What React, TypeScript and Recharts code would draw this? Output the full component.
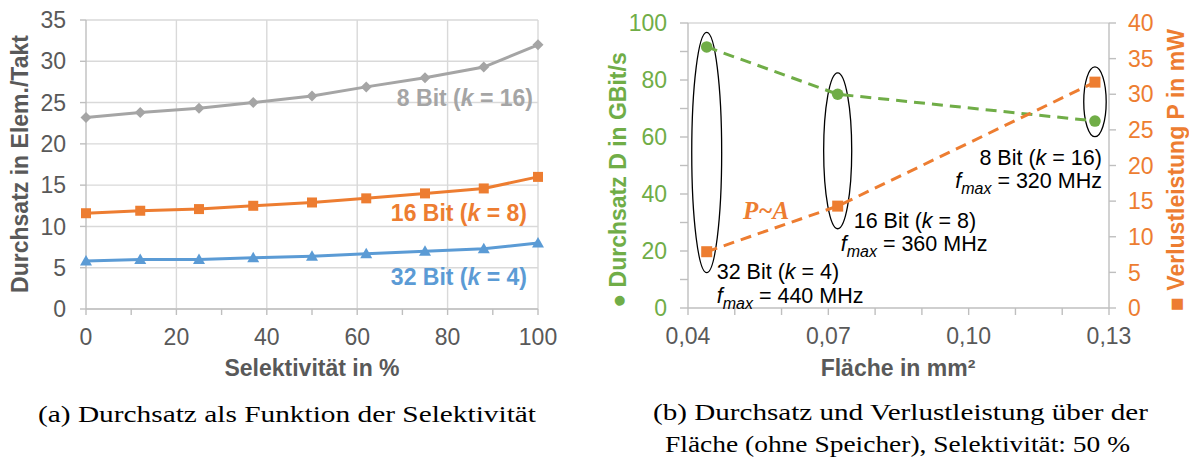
import * as React from "react"
import {
    LineChart,
    Line,
    XAxis,
    YAxis,
    CartesianGrid,
    ReferenceLine,
    ReferenceArea,
    ReferenceDot,
} from "recharts"

// (a) throughput vs. selectivity
const selectivity = [0, 12, 25, 37, 50, 62, 75, 88, 100]
const bit8 = [23.2, 23.8, 24.3, 25.0, 25.8, 26.9, 28.0, 29.3, 32.0]
const bit16 = [11.6, 11.9, 12.1, 12.5, 12.9, 13.4, 14.0, 14.6, 16.0]
const bit32 = [5.8, 6.0, 6.0, 6.2, 6.4, 6.7, 7.0, 7.3, 8.0]
const selTicks = [0, 10, 20, 30, 40, 50, 60, 70, 80, 90, 100]
const selGrid = [20, 40, 60, 80, 100]
const elemTicks = [0, 5, 10, 15, 20, 25, 30, 35]

// (b) throughput and power over area
const area = [0.044, 0.072, 0.127]
const throughput = [91.6, 75.0, 65.6]
const power = [7.9, 14.3, 31.7]
const areaTicks = [0.04, 0.05, 0.06, 0.07, 0.08, 0.09, 0.1, 0.11, 0.12, 0.13]
const dTicks = [0, 10, 20, 30, 40, 50, 60, 70, 80, 90, 100]
const pTicks = [0, 5, 10, 15, 20, 25, 30, 35, 40]
const configNames = ["32 Bit", "16 Bit", "8 Bit"]
const configK = [4, 8, 16]
const configFmax = [440, 360, 320]

// ellipse annotations (in D units)
const ellipseTop = [96.7, 82.5, 84.6]
const ellipseBottom = [12.4, 27.8, 60.1]
const ellipseHalfW = [0.0032, 0.003, 0.0024]

const GRAY = "#A5A5A5"
const ORANGE = "#ED7D31"
const BLUE = "#5B9BD5"
const GREEN = "#70AD47"
const TXT = "#595959"
const AXIS = "#BFBFBF"
const GRID = "#D9D9D9"
const SANS = "'Liberation Sans', Arial, sans-serif"
const SERIF = "'Liberation Serif', 'Times New Roman', serif"

const selData = selectivity.map((s, i) => ({ sel: s, b8: bit8[i], b16: bit16[i], b32: bit32[i] }))
const areaData = area.map((a, i) => ({ area: a, D: throughput[i], P: power[i] }))

const tickStyle = { fill: TXT, fontSize: 23, fontFamily: SANS }

const Diamond = (p: any) => {
    const { cx, cy } = p
    return <path key={p.index} d={`M${cx},${cy - 5.5}L${cx + 5.5},${cy}L${cx},${cy + 5.5}L${cx - 5.5},${cy}Z`} fill={GRAY} />
}
const Square = (size: number, color: string) => (p: any) => {
    const { cx, cy } = p
    return <rect key={p.index} x={cx - size / 2} y={cy - size / 2} width={size} height={size} fill={color} />
}
const Triangle = (p: any) => {
    const { cx, cy } = p
    return <path key={p.index} d={`M${cx},${cy - 6}L${cx + 6},${cy + 4.5}L${cx - 6},${cy + 4.5}Z`} fill={BLUE} />
}
const Circle = (p: any) => <circle key={p.index} cx={p.cx} cy={p.cy} r={5.8} fill={GREEN} />

const Fmax = ({ mhz }: { mhz: number }) => (
    <>
        <tspan fontStyle="italic">f</tspan>
        <tspan fontStyle="italic" fontSize={16} dy={6}>max</tspan>
        <tspan dy={-6}>{` = ${mhz} MHz`}</tspan>
    </>
)

// text block next to a point; dx/dy offsets in px
const annot = (i: number, anchor: "start" | "end", l1: [number, number], l2: [number, number]) => (p: any) => (
    <g fontFamily={SANS} fontSize={21.5} fill="#000">
        <text x={p.cx + l1[0]} y={p.cy + l1[1]} textAnchor={anchor}>
            {configNames[i]} (<tspan fontStyle="italic">k</tspan> = {configK[i]})
        </text>
        <text x={p.cx + l2[0]} y={p.cy + l2[1]} textAnchor={anchor}>
            <Fmax mhz={configFmax[i]} />
        </text>
    </g>
)

const ellipseShape = (p: any) => (
    <ellipse
        cx={p.x + p.width / 2}
        cy={p.y + p.height / 2}
        rx={Math.abs(p.width / 2)}
        ry={Math.abs(p.height / 2)}
        fill="none"
        stroke="#000"
        strokeWidth={1.3}
    />
)

const SelectivityChart = () => (
    <LineChart width={580} height={390} data={selData} margin={{ top: 20, right: 42, bottom: 51, left: 0 }}>
        <CartesianGrid vertical={false} stroke={GRID} strokeWidth={1.4} />
        {selGrid.map((v) => (
            <ReferenceLine key={v} x={v} stroke={GRID} strokeWidth={1.4} />
        ))}
        <XAxis
            type="number"
            dataKey="sel"
            domain={[0, 100]}
            ticks={selTicks}
            tickFormatter={(v: number) => (v % 20 === 0 ? String(v) : "")}
            height={30}
            tickSize={6}
            tickMargin={14}
            stroke={AXIS}
            strokeWidth={1.4}
            tick={tickStyle}
        />
        <YAxis
            domain={[0, 35]}
            ticks={elemTicks}
            width={86}
            tickSize={6}
            tickMargin={14}
            stroke={AXIS}
            strokeWidth={1.4}
            tick={tickStyle}
        />
        <Line dataKey="b8" stroke={GRAY} strokeWidth={3} dot={Diamond} isAnimationActive={false} />
        <Line dataKey="b16" stroke={ORANGE} strokeWidth={3} dot={Square(10, ORANGE)} isAnimationActive={false} />
        <Line dataKey="b32" stroke={BLUE} strokeWidth={3} dot={Triangle} isAnimationActive={false} />
    </LineChart>
)

const AreaChartB = () => (
    <LineChart width={609} height={390} data={areaData} margin={{ top: 23, right: 0, bottom: 52, left: 0 }}>
        <ReferenceLine yAxisId="D" y={100} stroke={GRID} strokeWidth={1.4} />
        <XAxis
            type="number"
            dataKey="area"
            domain={[0.04, 0.13]}
            ticks={areaTicks}
            tickFormatter={(v: number, i: number) => (i % 3 === 0 ? v.toFixed(2).replace(".", ",") : "")}
            height={30}
            tickSize={7}
            tickMargin={13}
            stroke={AXIS}
            strokeWidth={1.4}
            tick={tickStyle}
        />
        <YAxis
            yAxisId="D"
            domain={[0, 100]}
            ticks={dTicks}
            tickFormatter={(v: number) => (v % 20 === 0 ? String(v) : "")}
            width={108}
            tickSize={8}
            tickMargin={13}
            stroke={AXIS}
            strokeWidth={1.4}
            tick={{ ...tickStyle, fill: GREEN }}
        />
        <YAxis
            yAxisId="P"
            orientation="right"
            domain={[0, 40]}
            ticks={pTicks}
            width={80}
            tickSize={7}
            tickMargin={12}
            stroke={AXIS}
            strokeWidth={1.4}
            tick={{ ...tickStyle, fill: ORANGE }}
        />
        <Line
            yAxisId="D"
            dataKey="D"
            stroke={GREEN}
            strokeWidth={3}
            strokeDasharray="11 7"
            dot={Circle}
            isAnimationActive={false}
        />
        <Line
            yAxisId="P"
            dataKey="P"
            stroke={ORANGE}
            strokeWidth={3}
            strokeDasharray="11 7"
            dot={Square(11, ORANGE)}
            isAnimationActive={false}
        />
        {area.map((a, i) => (
            <ReferenceArea
                key={i}
                yAxisId="D"
                x1={a - ellipseHalfW[i]}
                x2={a + ellipseHalfW[i]}
                y1={ellipseBottom[i]}
                y2={ellipseTop[i]}
                ifOverflow="visible"
                shape={ellipseShape}
            />
        ))}
        <ReferenceDot yAxisId="P" x={area[0]} y={power[0]} r={0} shape={annot(0, "start", [10, 27], [10, 51])} />
        <ReferenceDot yAxisId="P" x={area[1]} y={power[1]} r={0} shape={annot(1, "start", [16, 22], [3, 45])} />
        <ReferenceDot yAxisId="D" x={area[2]} y={throughput[2]} r={0} shape={annot(2, "end", [7, 44], [7, 67])} />
    </LineChart>
)

export default function App() {
    return (
        <div style={{ position: "absolute", left: 0, top: 0, width: 1189, height: 460, background: "#fff" }}>
            <div style={{ position: "absolute", left: 0, top: 0 }}>
                <SelectivityChart />
            </div>
            <div style={{ position: "absolute", left: 580, top: 0 }}>
                <AreaChartB />
            </div>
            <svg
                width={1189}
                height={460}
                style={{ position: "absolute", left: 0, top: 0, pointerEvents: "none" }}
            >
                {/* (a) axis titles and series labels */}
                <g fontFamily={SANS} fontSize={23} fontWeight="bold">
                    <text x={20} y={164} fill={TXT} textAnchor="middle" dominantBaseline="central" transform="rotate(-90 20 164)">
                        Durchsatz in Elem./Takt
                    </text>
                    <text x={312} y={376} fill={TXT} textAnchor="middle">
                        Selektivität in %
                    </text>
                    <text x={533} y={106} fill={GRAY} textAnchor="end">
                        8 Bit (<tspan fontStyle="italic">k</tspan> = 16)
                    </text>
                    <text x={527} y={221} fill={ORANGE} textAnchor="end">
                        16 Bit (<tspan fontStyle="italic">k</tspan> = 8)
                    </text>
                    <text x={527} y={285} fill={BLUE} textAnchor="end">
                        32 Bit (<tspan fontStyle="italic">k</tspan> = 4)
                    </text>
                    {/* (b) axis titles */}
                    <text x={898} y={376} fill={TXT} textAnchor="middle">
                        Fläche in mm²
                    </text>
                    <text x={618} y={180} fill={GREEN} textAnchor="middle" dominantBaseline="central" transform="rotate(-90 618 180)">
                        ● Durchsatz D in GBit/s
                    </text>
                    <text x={1176} y={170} fill={ORANGE} textAnchor="middle" dominantBaseline="central" transform="rotate(-90 1176 170)">
                        ■ Verlustleistung P in mW
                    </text>
                </g>
                <text x={743} y={219} fill={ORANGE} fontFamily={SERIF} fontSize={25} fontWeight="bold" fontStyle="italic">
                    P~A
                </text>
                {/* captions */}
                <g fontFamily={SERIF} fontSize={23} fill="#000">
                    <text x={38} y={422} textLength={498} lengthAdjust="spacingAndGlyphs">
                        (a) Durchsatz als Funktion der Selektivität
                    </text>
                    <text x={653} y={420} textLength={495} lengthAdjust="spacingAndGlyphs">
                        (b) Durchsatz und Verlustleistung über der
                    </text>
                    <text x={665} y={452} textLength={465} lengthAdjust="spacingAndGlyphs">
                        Fläche (ohne Speicher), Selektivität: 50 %
                    </text>
                </g>
            </svg>
        </div>
    )
}
